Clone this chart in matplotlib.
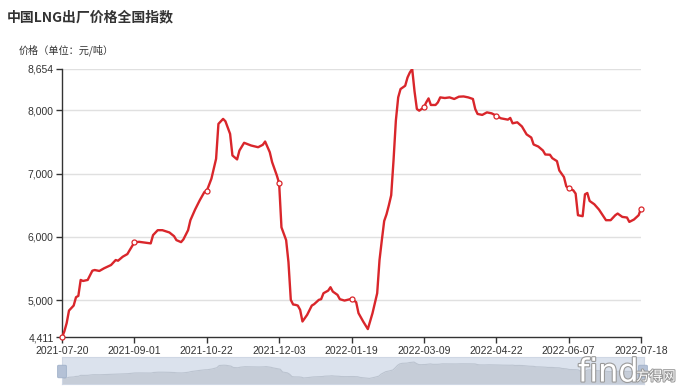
import matplotlib
matplotlib.use('Agg')
import matplotlib.pyplot as plt
import matplotlib.patheffects as pe
from matplotlib.patches import FancyBboxPatch

# category axis labels (every 31st trading day is labelled)
tick_labels = ['2021-07-20', '2021-09-01', '2021-10-22', '2021-12-03', '2022-01-19',
               '2022-03-09', '2022-04-22', '2022-06-07', '2022-07-18']
n_days = 249
label_step = 31

# trading-day index and price
day_idx = [0, 1, 2, 3, 5, 6, 7, 8, 9, 11, 13, 14, 16, 18, 21, 23, 24, 26, 28, 29,
           31, 33, 36, 38, 39, 41, 43, 46, 48, 49, 51, 52, 54, 55, 57, 59, 61, 62, 64, 65,
           66, 67, 69, 70, 72, 73, 75, 76, 78, 81, 84, 86, 87, 89, 90, 92, 93, 94, 95, 96,
           97, 98, 99, 100, 101, 102, 103, 105, 107, 108, 110, 111, 112, 114, 115, 116, 118, 119, 121, 124,
           126, 127, 129, 131, 133, 135, 136, 137, 138, 139, 140, 141, 142, 143, 144, 145, 147, 148, 149, 150,
           151, 152, 153, 155, 156, 157, 158, 160, 161, 162, 164, 166, 168, 170, 172, 174, 176, 177, 178, 180,
           182, 184, 186, 188, 191, 192, 193, 195, 197, 199, 201, 202, 204, 206, 207, 209, 210, 212, 213, 215,
           216, 217, 219, 220, 221, 223, 224, 225, 226, 228, 230, 233, 235, 237, 238, 240, 242, 243, 245, 247,
           248]
price = [4411, 4504, 4636, 4834, 4913, 5045, 5066, 5318, 5302, 5318, 5464, 5475, 5460, 5502, 5554, 5633, 5622, 5685, 5727, 5790,
         5912, 5921, 5905, 5896, 6027, 6105, 6105, 6069, 6010, 5948, 5916, 5959, 6105, 6263, 6431, 6578, 6709, 6725, 6920, 7077,
         7234, 7786, 7865, 7827, 7628, 7287, 7224, 7365, 7487, 7444, 7417, 7455, 7507, 7338, 7181, 6972, 6850, 6150, 6050, 5948,
         5600, 5003, 4930, 4924, 4913, 4845, 4661, 4766, 4913, 4935, 5003, 5014, 5108, 5149, 5203, 5134, 5082, 5014, 4992, 5019,
         4967, 4793, 4661, 4541, 4793, 5108, 5633, 5950, 6250, 6357, 6499, 6657, 7208, 7838, 8205, 8337, 8389, 8520, 8600, 8654,
         8300, 8021, 7995, 8047, 8126, 8189, 8085, 8085, 8126, 8205, 8195, 8205, 8180, 8216, 8220, 8205, 8180, 8021, 7943, 7928,
         7968, 7953, 7916, 7874, 7853, 7880, 7795, 7811, 7745, 7620, 7570, 7460, 7428, 7365, 7302, 7298, 7244, 7197, 7050, 6945,
         6798, 6767, 6735, 6683, 6342, 6326, 6672, 6693, 6567, 6515, 6431, 6263, 6263, 6342, 6368, 6315, 6305, 6236, 6274, 6342,
         6447]
y_ticks = [4411, 5000, 6000, 7000, 8000, 8654]

red = '#d9262b'
axis_col = '#333333'
cjk = ['Noto Sans CJK SC', 'DejaVu Sans']
plt.rcParams['font.family'] = ['Liberation Sans', 'Noto Sans CJK SC', 'DejaVu Sans']

fig = plt.figure(figsize=(6.8, 3.89), dpi=100)
ax = fig.add_axes([62 / 680, 1 - 337.3 / 389, (641 - 62) / 680, (337.3 - 69) / 389])

ax.plot(day_idx, price, color=red, lw=1.7, solid_joinstyle='round', zorder=3)
lookup = dict(zip(day_idx, price))
mk_x = list(range(0, n_days, label_step))
ax.plot(mk_x, [lookup[i] for i in mk_x], 'o', ms=3.6, mfc='white', mec=red, mew=0.9,
        zorder=4, clip_on=False)

ax.set_xlim(0, n_days - 1)
ax.set_ylim(y_ticks[0], y_ticks[-1])
ax.set_xticks(mk_x)
ax.set_xticklabels(tick_labels)
ax.set_yticks(y_ticks)
ax.set_yticklabels([f'{v:,}' for v in y_ticks])
for v in y_ticks[1:]:
    ax.axhline(v, color='#e0e0e0', lw=1, zorder=1)

for s in ['top', 'right']:
    ax.spines[s].set_visible(False)
for s in ['left', 'bottom']:
    ax.spines[s].set_color(axis_col)
    ax.spines[s].set_linewidth(1)
ax.tick_params(length=4, width=1, color=axis_col, labelsize=7.5, labelcolor=axis_col, pad=2)

fig.text(7 / 680, 1 - 17 / 389, '中国LNG出厂价格全国指数', family=cjk, fontsize=10,
         fontweight='bold', color='#333333', va='center')
fig.text(19 / 680, 1 - 50 / 389, '价格（单位：元/吨）', family=cjk, fontsize=7.3,
         color='#333333', va='center')

# data zoom slider with data shadow
sl = fig.add_axes([62 / 680, 1 - 384 / 389, (644 - 62) / 680, (384 - 357) / 389])
sl.set_facecolor('#dbe2ed')
off = (max(price) - min(price)) * 0.3
sl.fill_between(day_idx, min(price) - off, price, color='#c6cdd8', lw=0)
sl.plot(day_idx, price, color='#bcc4d0', lw=0.8)
sl.set_xlim(0, n_days - 1)
sl.set_ylim(min(price) - off, max(price) + off)
sl.set_xticks([])
sl.set_yticks([])
for s in sl.spines.values():
    s.set_color('#cfd7e4')
    s.set_linewidth(0.8)
for hx in [62, 643]:
    fig.patches.append(FancyBboxPatch(((hx - 3) / 680, 1 - 377 / 389), 6 / 680, 11 / 389,
                                      boxstyle='round,pad=0.002', transform=fig.transFigure,
                                      fc='#b4c1d6', ec='#9fb0c9', lw=0.6, zorder=5))

# watermark
fig.text(578 / 680, 1 - 373 / 389, 'find', fontsize=23, color='white', va='center',
         family='DejaVu Sans', path_effects=[pe.withStroke(linewidth=1.6, foreground='#9a9a9a')],
         zorder=10)
fig.text(636 / 680, 1 - 377 / 389, '方得网', family=cjk, fontsize=9.5, color='white',
         va='center', path_effects=[pe.withStroke(linewidth=1.5, foreground='#9a9a9a')],
         zorder=10)

fig.savefig('out.png', dpi=100)
